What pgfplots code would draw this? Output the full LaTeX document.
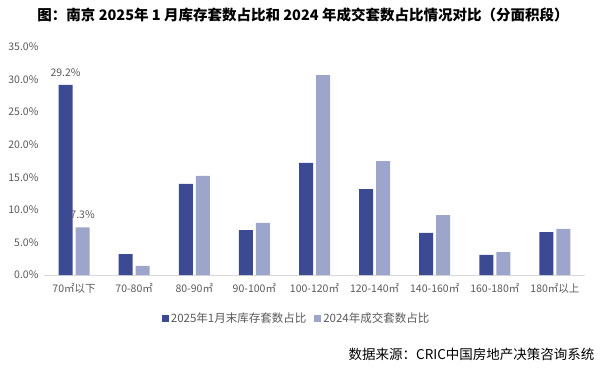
\documentclass[border=0pt]{standalone}
\usepackage{fontspec}
\setmainfont{Noto Sans CJK SC}
\usepackage{pgfplots}
\pgfplotsset{compat=1.18}
\definecolor{dk}{RGB}{60,74,148}
\definecolor{lt}{RGB}{157,166,202}
\definecolor{tk}{RGB}{89,89,89}
\definecolor{axc}{RGB}{217,217,217}
\begin{document}
\begin{tikzpicture}
\path[use as bounding box] (0,0) rectangle (607pt,368pt);
\node[font=\bfseries\fontsize{14.5}{16}\selectfont] at (303pt,353pt) {图：南京 2025年 1 月库存套数占比和 2024 年成交套数占比情况对比（分面积段）};
\node[anchor=east, font=\fontsize{13.5}{15}\selectfont] at (598pt,14pt) {数据来源：CRIC中国房地产决策咨询系统};
\begin{axis}[at={(44pt,93pt)}, anchor=south west, scale only axis, width=541pt, height=228pt,
  ybar=3pt, bar width=14pt,
  xmin=-0.5, xmax=8.5, ymin=0, ymax=35,
  ytick={0,5,...,35},
  yticklabel={\pgfmathprintnumber[fixed,fixed zerofill,precision=1]{\tick}\%},
  xtick={0,...,8},
  xticklabels={70㎡以下,70-80㎡,80-90㎡,90-100㎡,100-120㎡,120-140㎡,140-160㎡,160-180㎡,180㎡以上},
  axis x line*=bottom, axis y line*=left,
  y axis line style={draw=none},
  x axis line style={draw=axc, line width=0.8pt, -},
  major tick length=0pt,
  /pgf/number format/assume math mode=true,
  tick label style={font=\fontsize{10.5}{12}\selectfont, text=tk},
  yticklabel style={xshift=-2pt},
  xticklabel style={yshift=-5pt},
  nodes near coords style={font=\fontsize{10.5}{12}\selectfont, text=tk, yshift=5pt},
  legend style={at={(0.467,-0.189)}, anchor=center, draw=none, legend columns=2,
    font=\fontsize{11.5}{13}\selectfont, text=tk,
    /tikz/every even column/.append style={column sep=6pt}},
  legend image code/.code={\fill[#1] (0pt,-3.5pt) rectangle (7pt,3.5pt);},
]
\addplot[fill=dk, draw=none, nodes near coords, point meta=explicit symbolic] coordinates {
(0,29.2) [29.2\%] (1,3.2) [] (2,14.0) [] (3,6.9) [] (4,17.2) [] (5,13.2) [] (6,6.45) [] (7,3.1) [] (8,6.6) []};
\addplot[fill=lt, draw=none, nodes near coords, point meta=explicit symbolic] coordinates {
(0,7.3) [7.3\%] (1,1.4) [] (2,15.2) [] (3,8.0) [] (4,30.7) [] (5,17.5) [] (6,9.2) [] (7,3.5) [] (8,7.1) []};
\legend{2025年1月末库存套数占比,2024年成交套数占比}
\end{axis}
\end{tikzpicture}
\end{document}
